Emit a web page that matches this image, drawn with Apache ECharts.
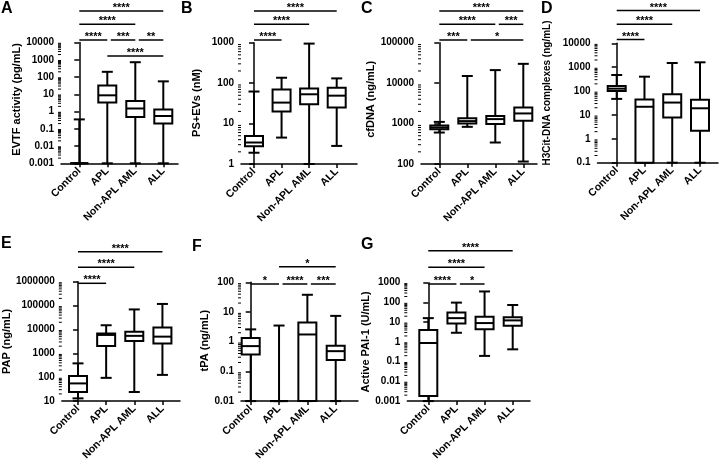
<!DOCTYPE html>
<html><head><meta charset="utf-8">
<script src="https://cdn.jsdelivr.net/npm/echarts@6/dist/echarts.min.js"></script>
<style>html,body{margin:0;padding:0;background:#fff}#c{width:720px;height:463px}</style>
</head><body><div id="c"></div>
<script>
// ---------- DATA ----------
const categories = ['Control', 'APL', 'Non-APL AML', 'ALL'];
const yTitles = ['EVTF activity (pg/mL)', 'PS+EVs (nM)', 'cfDNA (ng/mL)', 'H3Cit-DNA complexes (ng/mL)',
                 'PAP (ng/mL)', 'tPA (ng/mL)', 'Active PAI-1 (U/mL)'];
const panelLetters = ['A', 'B', 'C', 'D', 'E', 'F', 'G'];
const axisRanges = [[0.001, 10000], [1, 1000], [100, 100000], [0.1, 10000], [10, 1000000], [0.01, 100], [0.001, 1000]];
// box values per category: [min, Q1, median, Q3, max]
const evtfBoxes  = [[0.001, 0.001, 0.001, 0.001, 0.35], [0.001, 3.3, 8.7, 32, 200], [0.001, 0.48, 1.5, 4.1, 720], [0.001, 0.2, 0.55, 1.3, 56]];
const psEvBoxes  = [[1.9, 2.75, 3.4, 4.9, 62], [4.5, 20, 33, 70, 136], [1, 30, 53, 74, 950], [2.8, 25, 49, 77, 131]];
const cfDnaBoxes = [[600, 720, 800, 900, 1100], [830, 1010, 1150, 1350, 15000], [340, 970, 1290, 1540, 21000], [115, 1180, 1780, 2500, 30000]];
const h3citBoxes = [[47, 100, 126, 164, 470], [0.1, 0.1, 22, 44, 400], [0.1, 7.8, 33, 74, 1500], [0.1, 2.2, 19, 43, 1600]];
const papBoxes   = [[13, 24, 55, 112, 380], [94, 2050, 5900, 6700, 15000], [24, 3250, 5400, 8100, 69000], [125, 2600, 5000, 12000, 117000]];
const tpaBoxes   = [[0.01, 0.37, 0.71, 1.33, 2.6], [0.01, 0.01, 0.01, 0.01, 3.5], [0.01, 0.01, 1.75, 4.4, 38], [0.01, 0.24, 0.48, 0.73, 7.4]];
const pai1Boxes  = [[0.001, 0.0018, 0.88, 4, 16], [2.9, 8.5, 16, 31, 98], [0.195, 4.4, 9, 19, 360], [0.42, 6.5, 12.3, 18, 74]];
// significance brackets: [from category, to category, label, row]
const evtfSig  = [[0, 3, '****', 0], [0, 2, '****', 1], [0, 1, '****', 2], [1, 2, '***', 2], [2, 3, '**', 2], [1, 3, '****', 3]];
const psEvSig  = [[0, 3, '****', 0], [0, 2, '****', 1], [0, 1, '****', 2]];
const cfDnaSig = [[0, 3, '****', 0], [0, 2, '****', 1], [2, 3, '***', 1], [0, 1, '***', 2], [1, 3, '*', 2]];
const h3citSig = [[0, 3, '****', 0], [0, 2, '****', 1], [0, 1, '****', 2]];
const papSig   = [[0, 3, '****', 0], [0, 2, '****', 1], [0, 1, '****', 2]];
const tpaSig   = [[1, 3, '*', 0], [0, 1, '*', 1], [1, 2, '****', 1], [2, 3, '***', 1]];
const pai1Sig  = [[0, 3, '****', 0], [0, 2, '****', 1], [0, 1, '****', 2], [1, 2, '*', 2]];

const boxSets = [evtfBoxes, psEvBoxes, cfDnaBoxes, h3citBoxes, papBoxes, tpaBoxes, pai1Boxes];
const sigSets = [evtfSig, psEvSig, cfDnaSig, h3citSig, papSig, tpaSig, pai1Sig];

// ---------- LAYOUT (pixels) ----------
const FONT = '"Liberation Sans", Arial, Helvetica, sans-serif';
const layouts = [
  {left: 61,    right: 178, top: 42.5, bottom: 163.3, c0: 79.3,  c3: 163.3, nameGap: 38.5, nameShift: 7,  nameSize: 11, rows: [11, 24.3, 40, 56], letter: [1, 1]},
  {left: 241,   right: 357, top: 42.7, bottom: 164,   c0: 254,   c3: 336.7, nameGap: 38.5, nameShift: 1,  nameSize: 11, rows: [11, 24.3, 40],     letter: [181, 1]},
  {left: 421,   right: 537, top: 42.7, bottom: 164,   c0: 439.3, c3: 523.3, nameGap: 39.5, nameShift: 8,  nameSize: 11, rows: [11, 24.3, 40],     letter: [361, 1]},
  {left: 597.5, right: 718, top: 43.3, bottom: 162.7, c0: 616.7, c3: 700,   nameGap: 45.5, nameShift: 20, nameSize: 10, rows: [10.5, 24.3, 39.5], letter: [541, 1]},
  {left: 61,    right: 180, top: 281.7, bottom: 405,  c0: 77.3,  c3: 162.3, nameGap: 39.5, nameShift: 0,  nameSize: 11, rows: [251.7, 267.3, 283.3], letter: [1, 236]},
  {left: 241,   right: 358, top: 282.3, bottom: 404,  c0: 250.7, c3: 335.7, nameGap: 21.5, nameShift: 2,  nameSize: 11, rows: [266.7, 284],       letter: [192, 239]},
  {left: 407.3, right: 530, top: 282.7, bottom: 405,  c0: 428.3, c3: 512.7, nameGap: 34.8, nameShift: 0,  nameSize: 11, rows: [250.7, 267.3, 284], letter: [361, 237]}
];

function fmtLog(v) { return v >= 1 ? String(Math.round(v)) : String(Number(v.toPrecision(1))); }
function minorTickValues(min, max) {
  const out = [];
  for (let e = Math.round(Math.log10(min)); e < Math.round(Math.log10(max)); e++) {
    for (let k = 2; k <= 9; k++) out.push(k * Math.pow(10, e));
  }
  return out;
}

const option = {
  animation: false, backgroundColor: '#fff', textStyle: {fontFamily: FONT},
  grid: [], xAxis: [], yAxis: [], series: [], graphic: []
};

layouts.forEach((L, k) => {
  const [yMinV, yMaxV] = axisRanges[k];
  const s = (L.c3 - L.c0) / 3;
  const xMin = -(L.c0 - L.left) / s, xMax = 3 + (L.right - L.c3) / s;
  option.grid.push({left: L.left, top: L.top, width: L.right - L.left, height: L.bottom - L.top});
  option.xAxis.push({
    type: 'value', gridIndex: k, min: xMin, max: xMax, splitLine: {show: false},
    axisLine: {show: true, onZero: false, lineStyle: {color: '#000', width: 1.5}},
    axisTick: {show: true, customValues: [0, 1, 2, 3], length: 4, lineStyle: {color: '#000', width: 1.5}},
    axisLabel: {customValues: [0, 1, 2, 3], formatter: v => categories[Math.round(v)], rotate: 45,
                fontSize: 10.5, fontWeight: 'bold', color: '#000', margin: 6, fontFamily: FONT}
  });
  option.yAxis.push({
    type: 'log', logBase: 10, gridIndex: k, min: yMinV, max: yMaxV,
    name: yTitles[k], nameLocation: 'middle', nameGap: L.nameGap,
    nameTextStyle: {fontSize: L.nameSize, fontWeight: 'bold', color: '#000', fontFamily: FONT,
                    padding: [0, 0, 0, L.nameShift]},
    splitLine: {show: false},
    axisLine: {show: true, lineStyle: {color: '#000', width: 1.5}},
    axisTick: {show: true, length: 5, lineStyle: {color: '#000', width: 1.5}},
    axisLabel: {formatter: fmtLog, fontSize: 10, fontWeight: 'bold', color: '#000', margin: 7, fontFamily: FONT}
  });
  // minor log ticks
  option.series.push({
    type: 'custom', xAxisIndex: k, yAxisIndex: k, clip: false, silent: true,
    data: minorTickValues(yMinV, yMaxV).map(v => [xMin, v]),
    renderItem: (params, api) => {
      const p = api.coord([api.value(0), api.value(1)]);
      return {type: 'line', shape: {x1: p[0] - 3, y1: p[1], x2: p[0], y2: p[1]},
              style: {stroke: '#000', lineWidth: 1}};
    }
  });
  // box plots
  const boxes = boxSets[k];
  option.series.push({
    type: 'custom', xAxisIndex: k, yAxisIndex: k, clip: false,
    encode: {x: 0, y: [1, 2, 3, 4, 5]},
    data: boxes.map((b, i) => [i].concat(b)),
    renderItem: (params, api) => {
      const x = api.value(0);
      const pts = [1, 2, 3, 4, 5].map(d => api.coord([x, api.value(d)]));
      const cx = pts[0][0];
      const yMin = pts[0][1], yQ1 = pts[1][1], yMed = pts[2][1], yQ3 = pts[3][1], yMax = pts[4][1];
      const hw = 9, cw = 5.5, st = {stroke: '#000', lineWidth: 2};
      return {type: 'group', children: [
        {type: 'line', shape: {x1: cx, y1: yMax, x2: cx, y2: yQ3}, style: st},
        {type: 'line', shape: {x1: cx, y1: yQ1, x2: cx, y2: yMin}, style: st},
        {type: 'line', shape: {x1: cx - cw, y1: yMax, x2: cx + cw, y2: yMax}, style: st},
        {type: 'line', shape: {x1: cx - cw, y1: yMin, x2: cx + cw, y2: yMin}, style: st},
        {type: 'rect', shape: {x: cx - hw, y: yQ3, width: 2 * hw, height: yQ1 - yQ3},
         style: {fill: '#fff', stroke: '#000', lineWidth: 2}},
        {type: 'line', shape: {x1: cx - hw, y1: yMed, x2: cx + hw, y2: yMed}, style: st}
      ]};
    }
  });
  // significance brackets
  const sig = sigSets[k];
  option.series.push({
    type: 'custom', xAxisIndex: k, yAxisIndex: k, clip: false, silent: true,
    encode: {x: [0, 1], y: 2},
    data: sig.map(b => [b[0], b[1], yMaxV]),
    renderItem: (params, api) => {
      const b = sig[params.dataIndex];
      const inset = sig.some(o => o !== b && o[3] === b[3] && o[1] === b[0]) ? 3.5 : 0;
      const x1 = api.coord([b[0], yMaxV])[0] + inset;
      const x2 = api.coord([b[1], yMaxV])[0];
      const y = L.rows[b[3]];
      return {type: 'group', children: [
        {type: 'line', shape: {x1: x1, y1: y, x2: x2, y2: y}, style: {stroke: '#000', lineWidth: 1.5}},
        {type: 'text', x: (x1 + x2) / 2, y: y - 3,
         style: {text: b[2], fill: '#000', font: 'bold 11px ' + FONT, align: 'center', verticalAlign: 'middle'}}
      ]};
    }
  });
  option.graphic.push({type: 'text', left: L.letter[0], top: L.letter[1],
    style: {text: panelLetters[k], fill: '#000', font: 'bold 16px ' + FONT}});
});

const chart = echarts.init(document.getElementById('c'), null, {renderer: 'canvas'});
chart.setOption(option);
</script>
</body></html>
